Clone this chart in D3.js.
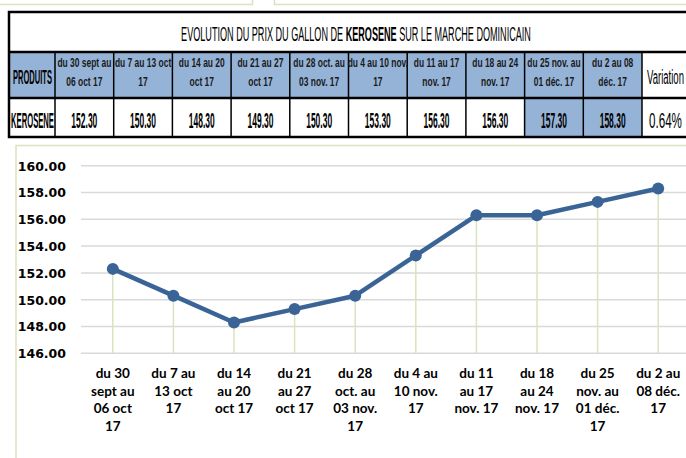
<!DOCTYPE html>
<html><head><meta charset="utf-8">
<script src="https://cdn.jsdelivr.net/npm/d3@7"></script>
<style>
html,body{margin:0;padding:0;background:#fff;overflow:hidden;}
svg{display:block;}
</style></head>
<body>
<svg id="chart" width="686" height="458"></svg>
<script>
// ---- data ----
const categories = ["du 30 sept au 06 oct 17","du 7 au 13 oct 17","du 14 au 20 oct 17","du 21 au 27 oct 17","du 28 oct. au 03 nov. 17","du 4 au 10 nov. 17","du 11 au 17 nov. 17","du 18 au 24 nov. 17","du 25 nov. au 01 déc. 17","du 2 au 08 déc. 17"];
const headerLines = [["du 30 sept au","06 oct 17"],["du 7 au 13 oct","17"],["du 14 au 20","oct 17"],["du 21 au 27","oct 17"],["du 28 oct. au","03 nov. 17"],["du 4 au 10 nov.","17"],["du 11 au 17","nov. 17"],["du 18 au 24","nov. 17"],["du 25 nov. au","01 déc. 17"],["du 2 au 08","déc. 17"]];
const axisLines = [["du 30","sept au","06 oct","17"],["du 7 au","13 oct","17"],["du 14","au 20","oct 17"],["du 21","au 27","oct 17"],["du 28","oct. au","03 nov.","17"],["du 4 au","10 nov.","17"],["du 11","au 17","nov. 17"],["du 18","au 24","nov. 17"],["du 25","nov. au","01 déc.","17"],["du 2 au","08 déc.","17"]];
const kerosene = [152.30,150.30,148.30,149.30,150.30,153.30,156.30,156.30,157.30,158.30];
const highlighted = [false,false,false,false,false,false,false,false,true,true];
const yTicks = [146,148,150,152,154,156,158,160];
const productLabel = "PRODUITS";
const seriesName = "KEROSENE";
const variationLabel = "Variation";
const variationValue = "0.64%";
const titleParts = [["EVOLUTION DU PRIX DU GALLON DE ",false],["KEROSENE",true],[" SUR LE MARCHE DOMINICAIN",false]];

const svg = d3.select("#chart");
const paleGreen = "#d7e4bd";
const blueFill = "#95b3d7";
const lineColor = "#3a6496";
const TF = "'Liberation Sans',Arial,sans-serif";

function scaleFor(str, size, weight, target){
  const t = svg.append("text").attr("font-family",TF).attr("font-size",size).attr("font-weight",weight).text(str);
  const w = t.node().getComputedTextLength(); t.remove();
  return target / w;
}
function ctext(g, str, x, y, size, weight, s, anchor){
  return g.append("text").attr("font-family",TF).attr("font-size",size).attr("font-weight",weight)
    .attr("text-anchor",anchor||"middle").attr("fill","#000")
    .attr("transform",`translate(${x},${y}) scale(${s},1)`).text(str);
}

// faint boxes at the very top
svg.append("path").attr("d","M0,4.5 H252.5 V-2").attr("fill","none").attr("stroke",paleGreen).attr("stroke-width",1.5);
svg.append("path").attr("d","M274.5,-2 V4.5 H690").attr("fill","none").attr("stroke",paleGreen).attr("stroke-width",1.5);

// ---- table ----
const tbl = svg.append("g");
const firstColL = 9, firstColR = 55, colW = 58.7;
const colX = d3.scaleLinear().domain([0,1]).range([firstColR, firstColR+colW]);
const tTop = 12, hTop = 52, dTop = 98, tBot = 137;
const nCols = categories.length;
const varL = colX(nCols);

tbl.append("rect").attr("x",firstColL).attr("y",hTop).attr("width",firstColR-firstColL).attr("height",dTop-hTop).attr("fill",blueFill);
tbl.selectAll("rect.hcell").data(categories).join("rect").attr("class","hcell")
  .attr("x",(d,i)=>colX(i)).attr("y",hTop).attr("width",colW).attr("height",dTop-hTop).attr("fill",blueFill);
tbl.selectAll("rect.dcell").data(highlighted).join("rect").attr("class","dcell")
  .attr("x",(d,i)=>colX(i)).attr("y",dTop).attr("width",colW).attr("height",tBot-dTop)
  .attr("fill",d=>d?blueFill:"#fff");

const vx = [firstColR].concat(d3.range(1,nCols+1).map(i=>colX(i)));
tbl.selectAll("line.vl").data(vx).join("line").attr("class","vl")
  .attr("x1",d=>d).attr("x2",d=>d).attr("y1",hTop).attr("y2",tBot).attr("stroke","#000").attr("stroke-width",1.5);
tbl.append("line").attr("x1",firstColL).attr("x2",700).attr("y1",hTop).attr("y2",hTop).attr("stroke","#000").attr("stroke-width",2.5);
tbl.append("line").attr("x1",firstColL).attr("x2",700).attr("y1",dTop).attr("y2",dTop).attr("stroke","#000").attr("stroke-width",2.5);
tbl.append("rect").attr("x",firstColL).attr("y",tTop).attr("width",720).attr("height",tBot-tTop)
  .attr("fill","none").attr("stroke","#000").attr("stroke-width",2.5);

// title
const title = tbl.append("text").attr("font-family",TF).attr("font-size",19.5).attr("text-anchor","middle");
title.selectAll("tspan").data(titleParts).join("tspan").text(d=>d[0]).attr("font-weight",d=>d[1]?"bold":"normal");
const tw = title.node().getComputedTextLength();
title.attr("transform",`translate(356,41) scale(${350/tw},1)`);

// header texts
const sProd = scaleFor(productLabel,20,"bold",39);
ctext(tbl, productLabel, (firstColL+firstColR)/2+0.5, 84, 20, "bold", sProd);
const sHead = scaleFor(headerLines[0][0],13.5,"bold",54);
headerLines.forEach((lines,i)=>{
  lines.forEach((ln,j)=>ctext(tbl, ln, colX(i)+colW/2, 67+j*19, 13.5, "bold", sHead).attr("fill","#1a1a1a"));
});
const sVar = scaleFor(variationLabel,20,"normal",37);
ctext(tbl, variationLabel, varL+5, 84, 20, "normal", sVar, "start");

// data row
const sKer = scaleFor(seriesName,21.5,"bold",43);
ctext(tbl, seriesName, (firstColL+firstColR)/2+0.5, 128, 21.5, "bold", sKer);
const sVal = scaleFor(kerosene[0].toFixed(2),21.5,"bold",26);
kerosene.forEach((v,i)=>ctext(tbl, v.toFixed(2), colX(i)+colW/2, 128, 21.5, "bold", sVal));
const sPct = scaleFor(variationValue,21.5,"normal",33);
ctext(tbl, variationValue, varL+7, 128, 21.5, "normal", sPct, "start");

// ---- chart ----
svg.append("rect").attr("x",16).attr("y",145.5).attr("width",700).attr("height",330)
  .attr("fill","none").attr("stroke",paleGreen).attr("stroke-width",1.5);

const x = d3.scaleBand().domain(categories).range([82.5, 688.5]);
const cx = c => x(c) + x.bandwidth()/2;
const y = d3.scaleLinear().domain([146,160]).range([353.3,165.7]);

svg.append("g").selectAll("line").data(yTicks).join("line")
  .attr("x1",81).attr("x2",690).attr("y1",d=>y(d)).attr("y2",d=>y(d))
  .attr("stroke","#d9d9d9").attr("stroke-width",1.5);

const yAxis = d3.axisLeft(y).tickValues(yTicks).tickFormat(d3.format(".2f")).tickSize(0).tickPadding(0);
const ya = svg.append("g").attr("transform","translate(66,0)").call(yAxis);
ya.select(".domain").remove();
ya.selectAll("text").attr("font-family","'DejaVu Sans',Verdana,sans-serif").attr("font-weight","bold")
  .attr("font-size",12.5).attr("fill","#000").attr("dy","0.35em");

svg.append("g").selectAll("line").data(kerosene).join("line")
  .attr("x1",(d,i)=>cx(categories[i])).attr("x2",(d,i)=>cx(categories[i]))
  .attr("y1",d=>y(d)).attr("y2",y(146)).attr("stroke",paleGreen).attr("stroke-width",1.5);

const line = d3.line().x((d,i)=>cx(categories[i])).y(d=>y(d));
svg.append("path").datum(kerosene).attr("d",line).attr("fill","none")
  .attr("stroke",lineColor).attr("stroke-width",4.5).attr("stroke-linejoin","round");
svg.append("g").selectAll("circle").data(kerosene).join("circle")
  .attr("cx",(d,i)=>cx(categories[i])).attr("cy",d=>y(d)).attr("r",6)
  .attr("fill",lineColor);

const xl = svg.append("g").selectAll("text").data(axisLines).join("text")
  .attr("text-anchor","middle").attr("font-family","Lato,'Open Sans',sans-serif")
  .attr("font-weight","bold").attr("font-size",13.5).attr("fill","#000");
xl.each(function(lines,i){
  d3.select(this).selectAll("tspan").data(lines).join("tspan")
    .attr("x",cx(categories[i])).attr("y",(d,j)=>378+j*17.5).text(d=>d);
});
</script>
</body></html>
